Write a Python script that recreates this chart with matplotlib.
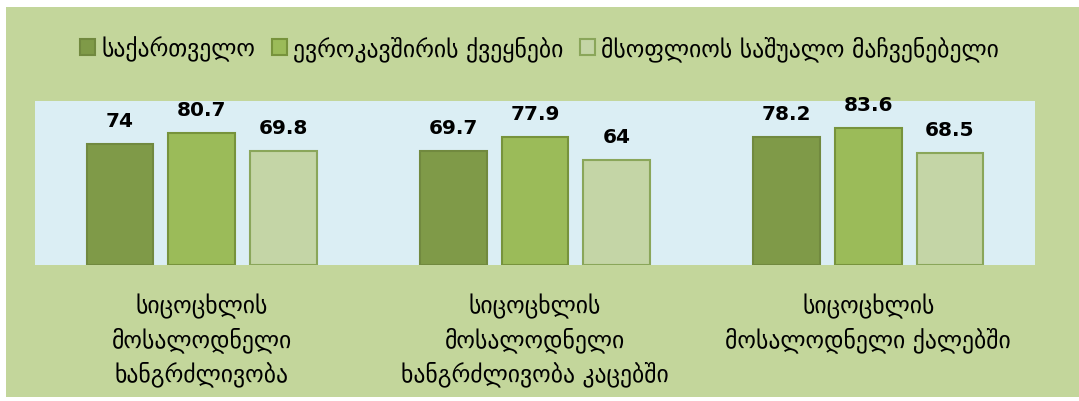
import numpy as np
import matplotlib.pyplot as plt
from matplotlib.patches import Rectangle

# მონაცემები
categories = ['სიცოცხლის\nმოსალოდნელი\nხანგრძლივობა',
              'სიცოცხლის\nმოსალოდნელი\nხანგრძლივობა კაცებში',
              'სიცოცხლის\nმოსალოდნელი ქალებში']
series_names = ['საქართველო', 'ევროკავშირის ქვეყნები', 'მსოფლიოს საშუალო მაჩვენებელი']
georgia = [74, 69.7, 78.2]
eu = [80.7, 77.9, 83.6]
world = [69.8, 64, 68.5]

plt.rcParams['font.family'] = ['DejaVu Sans']

fig = plt.figure(figsize=(10.79, 4.02), dpi=100, facecolor='white')

# green chart background
fig.patches.append(Rectangle((6 / 1079, 4 / 402), 1 - 6 / 1079, 390 / 402,
                             transform=fig.transFigure, facecolor='#C3D69B',
                             edgecolor='none', zorder=-1))

ax = fig.add_axes([35 / 1079, 136 / 402, 1000 / 1079, 164 / 402])
ax.set_zorder(1)
ax.set_facecolor('#DBEEF4')

x = np.arange(len(categories))
offsets = [-0.245, 0, 0.245]
fills = ['#7F9A48', '#9BBB59', '#C4D5A6']
edges = ['#71893F', '#77933C', '#8AA65A']
series = [georgia, eu, world]

for vals, off, fc, ec, name in zip(series, offsets, fills, edges, series_names):
    bars = ax.bar(x + off, vals, width=0.2, color=fc, edgecolor=ec,
                  linewidth=1.5, label=name)
    for b, v in zip(bars, vals):
        ax.annotate(f'{v:g}', (b.get_x() + b.get_width() / 2, v),
                    xytext=(0, 10), textcoords='offset points',
                    ha='center', va='bottom', fontsize=14.5,
                    fontweight='bold', annotation_clip=False)

ax.set_xlim(-0.5, 2.5)
ax.set_ylim(0, 100)
ax.set_yticks([])
ax.set_xticks(x)
ax.set_xticklabels(categories, fontsize=17, linespacing=1.42)
ax.tick_params(axis='x', length=0, pad=20)
for s in ax.spines.values():
    s.set_visible(False)

fig.legend(loc='center', bbox_to_anchor=(0.5, 1 - 49 / 402), ncol=3,
           frameon=False, fontsize=17, handlelength=0.65, handleheight=0.65,
           handletextpad=0.25, columnspacing=0.7)

fig.savefig('out.png', dpi=100, facecolor=fig.get_facecolor())
